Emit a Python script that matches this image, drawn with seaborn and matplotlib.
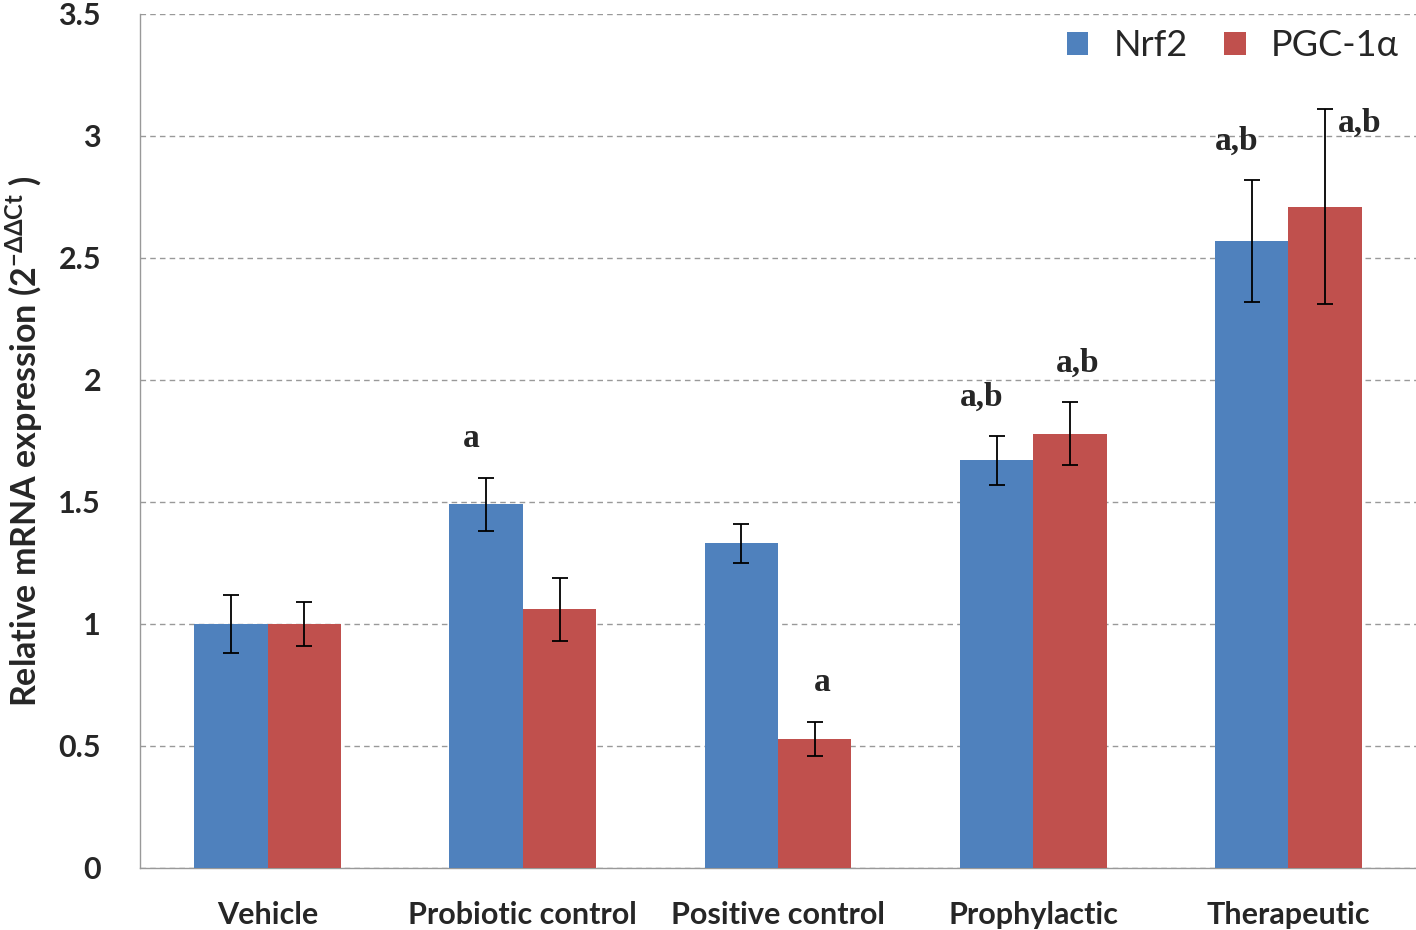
import pandas as pd
import matplotlib
matplotlib.use("Agg")
import matplotlib.pyplot as plt
import seaborn as sns

groups = ["Vehicle", "Probiotic control", "Positive control", "Prophylactic", "Therapeutic"]
nrf2 = [1.00, 1.49, 1.33, 1.67, 2.57]
nrf2_err = [0.12, 0.11, 0.08, 0.10, 0.25]
pgc = [1.00, 1.06, 0.53, 1.78, 2.71]
pgc_err = [0.09, 0.13, 0.07, 0.13, 0.40]
nrf2_sig = ["", "a", "", "a,b", "a,b"]
pgc_sig = ["", "", "a", "a,b", "a,b"]
genes = ["Nrf2", "PGC-1α"]
palette = ["#4F81BD", "#C0504D"]

df = pd.DataFrame({
    "group": groups * 2,
    "gene": [genes[0]] * 5 + [genes[1]] * 5,
    "value": nrf2 + pgc,
    "err": nrf2_err + pgc_err,
    "sig": nrf2_sig + pgc_sig,
})

sns.set_style("white")
plt.rcParams["font.family"] = ["Lato", "DejaVu Sans"]
plt.rcParams["mathtext.fontset"] = "custom"
plt.rcParams["mathtext.rm"] = "Lato:bold"
plt.rcParams["mathtext.bf"] = "Lato:bold"

fig = plt.figure(figsize=(14.16, 9.3), dpi=100)
ax = fig.add_axes([0.0989, 0.0667, 0.9011, 0.9183])

sns.barplot(data=df, x="group", y="value", hue="gene", palette=palette,
            errorbar=None, width=0.575, saturation=1, linewidth=0, ax=ax, zorder=3)

for cont, g in zip(ax.containers, genes):
    sub = df[df["gene"] == g]
    xs = [b.get_x() + b.get_width() / 2 for b in cont]
    ax.errorbar(xs, sub["value"], yerr=sub["err"], fmt="none", ecolor="black",
                elinewidth=1.3, capsize=6, capthick=1.3, zorder=4)
    for x, v, e, s in zip(xs, sub["value"], sub["err"], sub["sig"]):
        if not s:
            continue
        if g == genes[1] and v > 2.5:
            # label sits beside the tall error bar
            ax.text(x + 0.05, v + e - 0.06, s, ha="left", va="center",
                    family="Liberation Serif", weight="bold", fontsize=24)
        else:
            dx = -0.06 if g == genes[0] else 0.03
            ax.text(x + dx, v + e + 0.16, s, ha="center", va="center",
                    family="Liberation Serif", weight="bold", fontsize=24)

ax.set_ylim(0, 3.5)
ax.set_xlim(-0.5, 4.5)
ax.set_yticks([0, 0.5, 1, 1.5, 2, 2.5, 3, 3.5])
ax.set_yticklabels(["0", "0.5", "1", "1.5", "2", "2.5", "3", "3.5"])
ax.yaxis.grid(True, linestyle=(0, (4, 3)), color="#999999", linewidth=1, zorder=0)
ax.set_axisbelow(True)
for side in ["top", "right"]:
    ax.spines[side].set_visible(False)
for side in ["left", "bottom"]:
    ax.spines[side].set_color("#999999")
    ax.spines[side].set_linewidth(1)
ax.tick_params(axis="y", which="major", length=6, color="#999999", labelsize=22, pad=22)
ax.tick_params(axis="x", length=0, labelsize=22, pad=24)
for lab in ax.get_xticklabels() + ax.get_yticklabels():
    lab.set_fontweight("bold")

ax.set_xlabel("")
ax.set_ylabel(r"Relative mRNA expression (2$^{-\Delta\Delta \mathrm{Ct}}$ )",
              fontsize=24.5, fontweight="bold", labelpad=10)

ax.legend(loc="upper right", bbox_to_anchor=(1.012, 1.02), ncol=2, frameon=False,
          fontsize=26, handlelength=0.6, handleheight=0.6, columnspacing=1.0,
          handletextpad=0.7)

fig.savefig("out.png", dpi=100)
